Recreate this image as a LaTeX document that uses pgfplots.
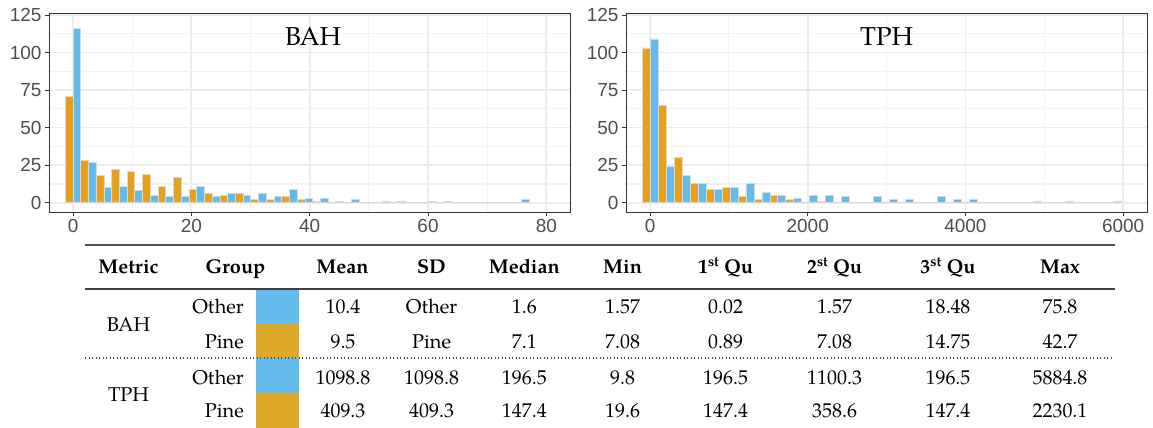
\documentclass[border=0pt]{standalone}
\usepackage{pgfplots}
\pgfplotsset{compat=1.18}
\usepackage{fontspec}
\setmainfont{TeX Gyre Pagella}
\newfontfamily\ticksans{Liberation Sans}

\definecolor{pine}{RGB}{230,160,30}
\definecolor{other}{RGB}{99,187,234}
\definecolor{pineswatch}{RGB}{223,167,40}
\definecolor{otherswatch}{RGB}{100,188,236}
\definecolor{gridmaj}{RGB}{236,236,236}
\definecolor{gridmin}{RGB}{243,243,243}
\definecolor{framecol}{RGB}{51,51,51}
\definecolor{ticktext}{RGB}{77,77,77}
\definecolor{rulecol}{RGB}{80,80,80}

% Histogram counts per bin (bin centre, count); Pine bars sit left of the centre, Other bars right
\pgfplotstableread{
x     pine  other
0.00   71   116
2.61   28    27
5.23   18    10
7.84   22    11
10.45  21     8
13.07  19     5
15.68  11     4
18.29  17     4
20.90   9    11
23.52   6     4
26.13   5     6
28.74   6     5
31.36   2     6
33.97   2     4
36.58   4     9
39.20   2     3
41.81   1     3
44.42   0     1
47.04   0     2
49.65   0     0
52.26   0     1
54.87   0     1
57.49   0     0
60.10   0     1
62.71   0     1
65.33   0     0
67.94   0     0
70.55   0     0
73.17   0     0
75.78   0     2
}\bahdata

\pgfplotstableread{
x       pine  other
0.0     103   109
202.6    65    24
405.2    30    18
607.8    13    13
810.4     9     9
1013.0   10    10
1215.6    4    13
1418.2    2     7
1620.8    5     5
1823.4    2     3
2026.0    0     5
2228.6    1     5
2431.2    0     4
2633.8    0     0
2836.4    0     4
3039.0    0     2
3241.6    0     2
3444.2    0     0
3646.8    0     4
3849.4    0     2
4052.0    0     2
4254.6    0     0
4457.2    0     0
4659.8    0     0
4862.4    0     1
5065.0    0     0
5267.6    0     1
5470.2    0     0
5672.8    0     0
5875.4    0     1
}\tphdata

\pgfplotsset{
  histpanel/.style={
    scale only axis, width=521bp, height=199bp, anchor=north west,
    ymin=-6.2, ymax=126.3,
    ytick={0,25,...,125}, minor ytick={12.5,37.5,...,112.5},
    grid=both,
    major grid style={gridmaj, line width=1.8bp},
    minor grid style={gridmin, line width=1.2bp},
    axis line style={framecol, line width=0.9bp},
    tick style={framecol, line width=0.9bp},
    tick align=outside, major tick length=4bp, minor tick length=0pt,
    tick pos=left,
    ticklabel style={font=\ticksans\fontsize{19}{19}\selectfont, text=ticktext},
    /pgf/number format/assume math mode=true,
    /pgf/number format/1000 sep={},
    scaled x ticks=false,
  },
  histbar/.style={ybar, draw=gray!30, line width=0.7bp},
}
\tikzset{
  tab/.style={font=\fontsize{20}{22}\selectfont, anchor=base, inner sep=0pt},
  tabh/.style={font=\fontsize{20}{22}\selectfont\bfseries, anchor=base, inner sep=0pt},
}

\begin{document}
\begin{tikzpicture}
\path[use as bounding box] (0,0) rectangle (1153bp,-428bp);

% BAH histogram
\begin{axis}[histpanel, at={(49bp,-13bp)},
  xmin=-4.06, xmax=84.0,
  xtick={0,20,...,80}, minor xtick={10,30,...,70}]
  \addplot[histbar, fill=pine, bar width=1.3066, bar shift=-0.6533] table[x=x, y=pine] {\bahdata};
  \addplot[histbar, fill=other, bar width=1.3066, bar shift=0.6533] table[x=x, y=other] {\bahdata};
  \node[font=\fontsize{26}{26}\selectfont] at (rel axis cs:0.507,0.884) {BAH};
\end{axis}

% TPH histogram
\begin{axis}[histpanel, at={(626bp,-13bp)},
  xmin=-305, xmax=6303,
  xtick={0,2000,...,6000}, minor xtick={1000,3000,5000}]
  \addplot[histbar, fill=pine, bar width=101.3, bar shift=-50.65] table[x=x, y=pine] {\tphdata};
  \addplot[histbar, fill=other, bar width=101.3, bar shift=50.65] table[x=x, y=other] {\tphdata};
  \node[font=\fontsize{26}{26}\selectfont] at (rel axis cs:0.5004,0.884) {TPH};
\end{axis}

% Summary table: colour swatches
\fill[otherswatch] (255.7bp,-289bp) rectangle (298.6bp,-324bp);
\fill[pineswatch]  (255.7bp,-324bp) rectangle (298.6bp,-358bp);
\fill[otherswatch] (255.7bp,-358bp) rectangle (298.6bp,-393bp);
\fill[pineswatch]  (255.7bp,-393bp) rectangle (298.6bp,-428bp);

% rules
\draw[rulecol, line width=1.6bp] (85bp,-245bp) -- (1115bp,-245bp);
\draw[rulecol!80!black, line width=2bp] (85bp,-288.5bp) -- (1115bp,-288.5bp);
\draw[rulecol, line width=1.3bp, dash pattern=on 1.3bp off 2.2bp] (85bp,-358bp) -- (1113bp,-358bp);

% header
\node[tabh] at (128.5bp,-273.7bp) {Metric};
\node[tabh] at (235.5bp,-273.7bp) {Group};
\node[tabh] at (342.5bp,-273.7bp) {Mean};
\node[tabh] at (431.4bp,-273.7bp) {SD};
\node[tabh] at (524.3bp,-273.7bp) {Median};
\node[tabh] at (622.6bp,-273.7bp) {Min};
\node[tabh] at (725.6bp,-273.7bp) {1\textsuperscript{st} Qu};
\node[tabh] at (834.6bp,-273.7bp) {2\textsuperscript{st} Qu};
\node[tabh] at (948bp,-273.7bp) {3\textsuperscript{st} Qu};
\node[tabh] at (1060bp,-273.7bp) {Max};

% body
\node[tab] at (128.5bp,-331bp) {BAH};
\node[tab] at (128.5bp,-401bp) {TPH};
\foreach \yy/\grp in {313.5/Other, 348.3/Pine, 384/Other, 417.7/Pine}
  \node[tab, anchor=base east] at (244bp,-\yy bp) {\grp};

\foreach \yy/\a/\b/\c/\d/\e/\f/\g/\h in {
  313.5/10.4/Other/1.6/1.57/0.02/1.57/18.48/75.8,
  348.3/9.5/Pine/7.1/7.08/0.89/7.08/14.75/42.7,
  384/1098.8/1098.8/196.5/9.8/196.5/1100.3/196.5/5884.8,
  417.7/409.3/409.3/147.4/19.6/147.4/358.6/147.4/2230.1}{
  \node[tab] at (343bp,-\yy bp) {\a};
  \node[tab] at (431.6bp,-\yy bp) {\b};
  \node[tab] at (524.3bp,-\yy bp) {\c};
  \node[tab] at (622.6bp,-\yy bp) {\d};
  \node[tab] at (725.6bp,-\yy bp) {\e};
  \node[tab] at (834.6bp,-\yy bp) {\f};
  \node[tab] at (948bp,-\yy bp) {\g};
  \node[tab] at (1060bp,-\yy bp) {\h};
}
\end{tikzpicture}
\end{document}
